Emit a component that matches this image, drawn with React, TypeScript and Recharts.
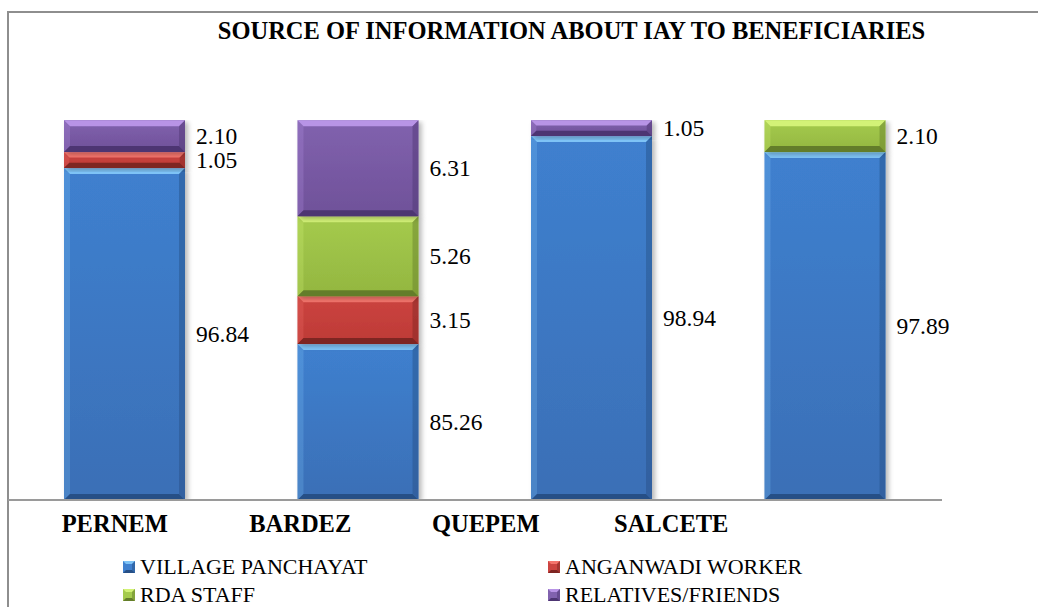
import React from 'react';
import { BarChart, Bar, XAxis, YAxis, Legend, LabelList } from 'recharts';

// ─── Data ─────────────────────────────────────────────────────────────────────

const CATEGORIES = ['PERNEM', 'BARDEZ', 'QUEPEM', 'SALCETE'];
const VILLAGE_PANCHAYAT = [96.84, 85.26, 98.94, 97.89];
const ANGANWADI_WORKER = [1.05, 3.15, 0, 0];
const RDA_STAFF = [0, 5.26, 0, 2.1];
const RELATIVES_FRIENDS = [2.1, 6.31, 1.05, 0];

const Y_DOMAIN: [number, number] = [75, 100];

const rows = CATEGORIES.map((name, i) => ({
    name,
    vp: VILLAGE_PANCHAYAT[i],
    aw: ANGANWADI_WORKER[i],
    rda: RDA_STAFF[i],
    rf: RELATIVES_FRIENDS[i],
}));

// ─── Look ─────────────────────────────────────────────────────────────────────

const SERIF = '"Liberation Serif", "Times New Roman", serif';

const W = 1038;
const H = 607;
const PLOT_BOTTOM = 500;

const SERIES = [
    { key: 'vp', name: 'VILLAGE PANCHAYAT', face: '#3f80cf', faceLow: '#3a6fb6', light: '#7ec3f6', dark: '#264f86' },
    { key: 'aw', name: 'ANGANWADI WORKER', face: '#cc4440', faceLow: '#bd3a36', light: '#f4746c', dark: '#7e2522' },
    { key: 'rda', name: 'RDA STAFF', face: '#a5cb4d', faceLow: '#93b640', light: '#d3f277', dark: '#647d2a' },
    { key: 'rf', name: 'RELATIVES/FRIENDS', face: '#8162ae', faceLow: '#6f5199', light: '#b894e6', dark: '#4d3572' },
];

type Tone = (typeof SERIES)[number];

// ─── Bevelled bar segment ─────────────────────────────────────────────────────

const BevelBar: React.FC<any> = ({ x, y, width, height, tone }) => {
    if (!height || height <= 0) return null;
    const bottom = Math.min(y + height, PLOT_BOTTOM);
    const h = bottom - y;
    if (h <= 0) return null;
    const clipped = y + height > PLOT_BOTTOM + 0.5;
    const b = Math.min(6, h / 3);
    const r = x + width;
    return (
        <g filter="url(#barShadow)">
            <rect x={x} y={y} width={width} height={h} fill={`url(#face-${tone.key})`} />
            <polygon points={`${x},${y} ${r},${y} ${r - b},${y + b} ${x + b},${y + b}`} fill={tone.light} />
            <polygon
                points={`${x},${y} ${x + b},${y + b} ${x + b},${bottom - (clipped ? 0 : b)} ${x},${bottom}`}
                fill={tone.light}
                opacity={0.25}
            />
            <polygon
                points={`${r},${y} ${r - b},${y + b} ${r - b},${bottom - (clipped ? 0 : b)} ${r},${bottom}`}
                fill={tone.dark}
                opacity={0.45}
            />
            {!clipped && (
                <polygon
                    points={`${x},${bottom} ${x + b},${bottom - b} ${r - b},${bottom - b} ${r},${bottom}`}
                    fill={tone.dark}
                />
            )}
        </g>
    );
};

// ─── Value label to the right of each segment ─────────────────────────────────

const SegmentLabel: React.FC<any> = ({ x, y, width, height, value }) => {
    if (!value) return null;
    const bottom = Math.min(y + height, PLOT_BOTTOM);
    return (
        <text
            x={x + width + 11}
            y={(y + bottom) / 2}
            dominantBaseline="central"
            fontFamily={SERIF}
            fontSize={23.5}
            fill="#000"
        >
            {Number(value).toFixed(2)}
        </text>
    );
};

// ─── Category tick ────────────────────────────────────────────────────────────

const NameTick: React.FC<any> = ({ x, y, payload }) => (
    <text
        x={x}
        y={y}
        dy={14}
        textAnchor="middle"
        dominantBaseline="central"
        fontFamily={SERIF}
        fontSize={24.5}
        fontWeight="bold"
        fill="#000"
    >
        {payload.value}
    </text>
);

// ─── Legend ───────────────────────────────────────────────────────────────────

const Swatch: React.FC<{ tone: Tone }> = ({ tone }) => (
    <svg width={12} height={12} style={{ display: 'block' }}>
        <rect x={0} y={0} width={12} height={12} fill={tone.face} />
        <polygon points="0,0 12,0 9,3 3,3" fill={tone.light} />
        <polygon points="0,12 3,9 9,9 12,12" fill={tone.dark} />
        <polygon points="12,0 9,3 9,9 12,12" fill={tone.dark} opacity={0.5} />
    </svg>
);

const LegendBox: React.FC = () => (
    <div
        style={{
            display: 'grid',
            gridTemplateColumns: '425px 425px',
            paddingLeft: 123,
            height: 56,
            fontFamily: SERIF,
            fontSize: 22,
            lineHeight: '28px',
            color: '#000',
        }}
    >
        {SERIES.map((s) => (
            <div key={s.key} style={{ display: 'flex', alignItems: 'center', height: 28 }}>
                <Swatch tone={s} />
                <span style={{ marginLeft: 5 }}>{s.name}</span>
            </div>
        ))}
    </div>
);

// ─── Component ────────────────────────────────────────────────────────────────

export default function App() {
    return (
        <div style={{ position: 'absolute', left: 0, top: 0, width: W, height: H, background: '#fff' }}>
            {/* frame */}
            <div
                style={{
                    position: 'absolute',
                    left: 7,
                    top: 11,
                    width: W - 7,
                    height: H - 11,
                    borderTop: '2px solid #8e8e8e',
                    borderLeft: '2px solid #8e8e8e',
                    boxSizing: 'border-box',
                }}
            />
            {/* title */}
            <div
                style={{
                    position: 'absolute',
                    left: 180,
                    top: 18,
                    width: 783,
                    textAlign: 'center',
                    fontFamily: SERIF,
                    fontSize: 24.5,
                    lineHeight: '26px',
                    fontWeight: 'bold',
                    color: '#000',
                }}
            >
                SOURCE OF INFORMATION ABOUT IAY TO BENEFICIARIES
            </div>

            <BarChart
                width={W}
                height={H}
                data={rows}
                margin={{ top: 120, right: 96, left: 8, bottom: 11 }}
                style={{ position: 'absolute', left: 0, top: 0 }}
            >
                <defs>
                    <filter id="barShadow" x="-10%" y="-10%" width="130%" height="130%">
                        <feDropShadow dx={3} dy={2} stdDeviation={2.5} floodColor="#000" floodOpacity={0.28} />
                    </filter>
                    {SERIES.map((s) => (
                        <linearGradient key={s.key} id={`face-${s.key}`} x1="0" y1="0" x2="0" y2="1">
                            <stop offset="0%" stopColor={s.face} />
                            <stop offset="100%" stopColor={s.faceLow} />
                        </linearGradient>
                    ))}
                </defs>
                <XAxis
                    dataKey="name"
                    height={1}
                    tick={false}
                    tickLine={false}
                    axisLine={{ stroke: '#9a9a9a', strokeWidth: 2 }}
                />
                <XAxis
                    xAxisId="names"
                    dataKey="name"
                    height={39}
                    padding={{ left: 14, right: 178 }}
                    axisLine={false}
                    tickLine={false}
                    tick={<NameTick />}
                    interval={0}
                />
                <YAxis hide domain={Y_DOMAIN} allowDataOverflow />
                <Legend
                    verticalAlign="bottom"
                    content={<LegendBox />}
                    wrapperStyle={{ left: 0, top: 553, bottom: 'auto', width: W }}
                />
                {SERIES.map((s) => (
                    <Bar
                        key={s.key}
                        dataKey={s.key}
                        name={s.name}
                        stackId="a"
                        fill={s.face}
                        barSize={121}
                        isAnimationActive={false}
                        shape={(p: any) => <BevelBar {...p} tone={s} />}
                    >
                        <LabelList dataKey={s.key} content={<SegmentLabel />} />
                    </Bar>
                ))}
            </BarChart>
        </div>
    );
}
